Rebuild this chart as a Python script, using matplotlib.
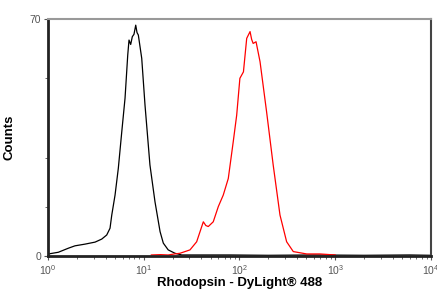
import matplotlib
matplotlib.use("Agg")
import matplotlib.pyplot as plt
from matplotlib.ticker import FixedLocator, NullFormatter

plt.rcParams['font.family'] = ['Liberation Sans', 'DejaVu Sans']
plt.rcParams['mathtext.fontset'] = 'custom'
plt.rcParams['mathtext.rm'] = 'Liberation Sans'

# control (black) histogram: intensity, counts
ctrl_x = [1.0, 1.01, 1.28, 1.63, 1.91, 2.43, 3.10, 3.64, 4.10, 4.44, 4.63, 5.01, 5.42,
          5.89, 6.37, 6.80, 7.01, 7.30, 7.59, 7.90, 8.24, 8.50, 8.77, 9.52, 10.3, 11.6,
          13.1, 14.8, 16.0, 18.0, 21.2, 24.9, 40, 80, 200, 600, 2000, 6000, 10000]
ctrl_y = [0.2, 0.6, 1.1, 2.3, 3.0, 3.5, 4.1, 5.0, 6.2, 8.2, 12.1, 18.0, 25.9,
          36.7, 46.6, 59.4, 63.8, 62.5, 64.8, 65.5, 68.2, 66.0, 65.3, 58.4, 44.6, 26.9,
          16.0, 7.2, 3.8, 1.8, 0.8, 0.3, 0.3, 0.3, 0.2, 0.3, 0.2, 0.3, 0.2]

# Rhodopsin (red) histogram
rho_x = [12, 15, 18, 21, 23.9, 30.4, 35.7, 41.9, 44.5, 47.2, 53.2, 60.1, 67.7, 76.4,
         86.1, 93.5, 101, 110, 119, 129, 134, 139, 149, 164, 192, 225, 265, 311,
         365, 504, 693, 1000]
rho_y = [0.3, 0.4, 0.3, 0.6, 0.8, 1.8, 4.2, 10.1, 9.0, 8.7, 10.1, 14.6, 18.0, 22.9,
         33.8, 41.6, 52.5, 54.4, 64.3, 66.3, 64.0, 62.8, 63.3, 57.4, 42.6, 26.9, 12.1, 4.2,
         1.3, 0.6, 0.6, 0.3]

fig = plt.figure(figsize=(4.37, 2.98), dpi=100)
ax = fig.add_axes([0.110, 0.141, 0.876, 0.795])

ax.plot(ctrl_x, ctrl_y, color="black", lw=0.9)
ax.plot(rho_x, rho_y, color="red", lw=0.9)

ax.set_xscale("log")
ax.set_xlim(1, 10000)
ax.set_ylim(0, 70)
ax.set_yticks([0, 70])
ax.yaxis.set_minor_locator(FixedLocator([14.5, 29, 52.5]))
ax.yaxis.set_minor_formatter(NullFormatter())

for s in ["left", "bottom"]:
    ax.spines[s].set_linewidth(2)
    ax.spines[s].set_color("#222222")
ax.spines["top"].set_linewidth(1.5)
ax.spines["top"].set_color("#999999")
ax.spines["right"].set_linewidth(1.5)
ax.spines["right"].set_color("#444444")

ax.tick_params(axis="both", which="major", labelsize=7.5, labelcolor="#555555",
               length=3, width=0.8, color="#555555", pad=2)
ax.tick_params(axis="both", which="minor", length=2, width=0.6, color="#555555")

ax.set_ylabel("Counts", fontsize=9.5, fontweight="bold", labelpad=10)
ax.set_xlabel("Rhodopsin - DyLight\u00ae 488", fontsize=9.5, fontweight="bold", labelpad=0)

fig.savefig("out.png", dpi=100)
